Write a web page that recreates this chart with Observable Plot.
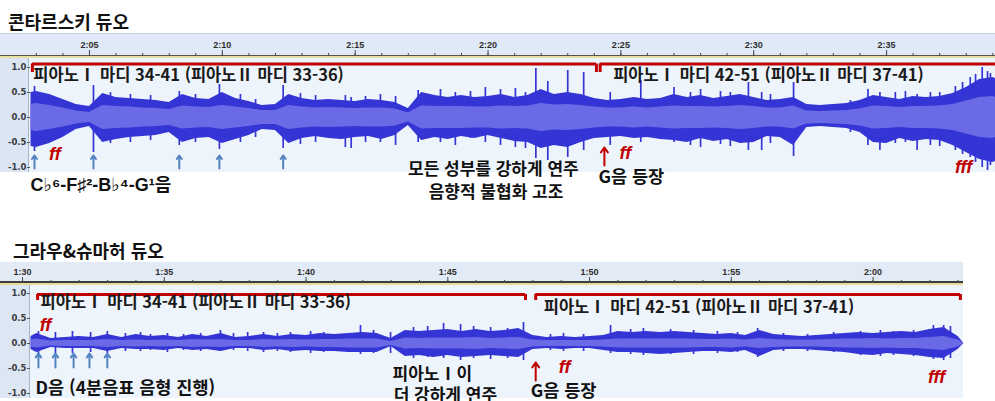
<!DOCTYPE html>
<html lang="ko">
<head>
<meta charset="utf-8">
<script src="https://cdn.jsdelivr.net/npm/d3@7"></script>
<script src="https://cdn.jsdelivr.net/npm/@observablehq/plot@0.6"></script>
<style>
  html, body { margin: 0; padding: 0; background: #fff; }
  body { position: relative; width: 995px; height: 401px; overflow: hidden; font-family: "Noto Sans CJK KR", sans-serif; }
  .box { position: absolute; }
  .title { position: absolute; font-weight: 700; font-size: 18px; line-height: 1; color: #111; white-space: nowrap; }
  .layer { position: absolute; left: 0; }
</style>
</head>
<body>
<div class="title" style="left:8px;top:12px">콘타르스키 듀오</div>
<div class="title" style="left:13px;top:241px">그라우&amp;슈마허 듀오</div>

<!-- track backgrounds: time ruler, amplitude ruler, waveform area -->
<div class="box" style="left:0;top:33px;width:995px;height:21px;background:#dfe9f7;border-top:1px solid #c5cfdc"></div>
<div class="box" style="left:0;top:55px;width:995px;height:1px;background:#55554a"></div>
<div class="box" style="left:0;top:56px;width:995px;height:2px;background:#e8e0a2"></div>
<div class="box" style="left:0;top:58px;width:28px;height:114px;background:#dbe5f3;border-right:1px solid #a8b6ca"></div>
<div class="box" style="left:29px;top:58px;width:966px;height:114px;background:#eef4fb"></div>

<div class="box" style="left:0;top:262px;width:963px;height:19px;background:#e2eaf6"></div>
<div class="box" style="left:0;top:281px;width:963px;height:2px;background:#3c3c3c"></div>
<div class="box" style="left:0;top:283px;width:963px;height:2px;background:#e6dc9a"></div>
<div class="box" style="left:0;top:285px;width:29px;height:113px;background:#dde6f3;border-right:1px solid #a8b6ca"></div>
<div class="box" style="left:30px;top:285px;width:933px;height:113px;background:#eef4fb"></div>

<div id="top" class="layer" style="top:0"></div>
<div id="bottom" class="layer" style="top:200px"></div>

<script>
// ---------- 콘타르스키 듀오 (2:03 – 2:39) ----------
// Waveform envelope sampled every half second: time (s), peak max, peak min, RMS
const kTime = [122.8,123,123.5,124,124.5,125,125.5,126,126.5,127,127.5,128,128.5,129,129.5,130,130.5,131,131.5,132,132.5,133,133.5,134,134.5,135,135.5,136,136.5,137,137.5,138,138.5,139,139.5,140,140.5,141,141.5,142,142.5,143,143.5,144,144.5,145,145.5,146,146.5,147,147.5,148,148.5,149,149.5,150,150.5,151,151.5,152,152.5,153,153.5,154,154.5,155,155.5,156,156.5,157,157.5,158,158.5,159,159.1];
const kPeakHi = [.50,.52,.46,.36,.26,.22,.48,.40,.38,.36,.34,.30,.46,.38,.36,.50,.38,.32,.24,.26,.46,.38,.34,.36,.34,.32,.36,.34,.30,.18,.50,.44,.40,.44,.40,.42,.46,.40,.44,.56,.46,.50,.46,.38,.34,.36,.40,.36,.38,.46,.40,.44,.38,.42,.46,.40,.34,.36,.40,.26,.24,.26,.28,.34,.44,.40,.36,.42,.40,.42,.48,.60,.76,.80,.78];
const kPeakLo = [-.58,-.60,-.52,-.40,-.24,-.18,-.50,-.44,-.40,-.38,-.36,-.30,-.50,-.42,-.40,-.52,-.44,-.36,-.24,-.26,-.52,-.42,-.38,-.42,-.44,-.40,-.38,-.44,-.36,-.16,-.46,-.40,-.44,-.38,-.42,-.36,-.42,-.48,-.50,-.62,-.56,-.60,-.50,-.42,-.40,-.38,-.42,-.40,-.44,-.46,-.50,-.42,-.48,-.44,-.52,-.50,-.38,-.40,-.56,-.20,-.18,-.20,-.22,-.30,-.50,-.52,-.42,-.48,-.44,-.46,-.56,-.70,-.84,-.90,-.88];
const kRms = [.26,.28,.24,.19,.13,.10,.24,.22,.21,.19,.18,.16,.23,.21,.20,.24,.21,.18,.14,.14,.24,.21,.19,.20,.19,.18,.19,.19,.17,.09,.23,.22,.22,.22,.21,.21,.23,.22,.23,.28,.25,.26,.24,.21,.19,.19,.21,.19,.21,.23,.22,.22,.21,.22,.24,.22,.19,.19,.23,.13,.12,.13,.14,.17,.23,.22,.20,.22,.22,.23,.26,.33,.40,.42,.40];
// Note attacks (transients): time (s), peak max, peak min
const kHitTime = [122.93,125.15,125.79,126.54,127.3,128.38,128.99,129.89,130.68,131.25,132.29,132.94,133.51,134.63,134.85,135.39,135.95,136.52,137.37,138.21,138.77,139.34,139.9,140.47,141.03,141.41,141.8,142.25,143.0,143.6,144.6,145.75,147.0,147.62,148.0,148.75,149.12,149.8,150.3,150.63,151.5,153.64,154.3,154.75,155.33,155.71,156.15,156.65,157.0,157.59,157.86,158.15,158.35,158.6,158.8,158.91];
const kHitHi = [.62,.64,.50,.46,.44,.52,.46,.66,.46,.36,.64,.48,.44,.44,.40,.42,.46,.42,.54,.56,.50,.52,.60,.56,.58,.50,.98,.72,.94,.90,.50,.74,.60,.50,.56,.52,.50,.70,.50,.46,.70,.34,.56,.50,.50,.52,.46,.50,.50,.62,.70,.80,.86,1.0,.92,.88];
const kHitLo = [-.68,-.70,-.52,-.50,-.46,-.56,-.50,-.64,-.50,-.40,-.62,-.54,-.50,-.60,-.62,-.50,-.50,-.56,-.50,-.50,-.56,-.42,-.50,-.56,-.60,-.62,-.82,-.86,-.80,-.66,-.56,-.50,-.50,-.56,-.60,-.54,-.58,-.66,-.66,-.52,-.78,-.30,-.56,-.66,-.52,-.50,-.66,-.56,-.58,-.66,-.74,-.80,-.90,-1.0,-1.06,-.96];
// Sections (bars) and marked events
const kSectionStart = [122.85, 144.22];
const kSectionEnd = [144.08, 159.4];
const kSectionLabel = ["피아노Ⅰ 마디 34-41 (피아노Ⅱ 마디 33-36)", "피아노Ⅰ 마디 42-51 (피아노Ⅱ 마디 37-41)"];
const kChordTimes = [122.93, 125.15, 128.38, 129.89, 132.29];
const kGEntry = 144.38;

// ---------- 그라우&슈마허 듀오 (1:30 – 2:03) ----------
const gTime = [90.3,90.5,91,91.5,92,92.5,93,93.5,94,94.5,95,95.5,96,96.5,97,97.5,98,98.5,99,99.5,100,100.5,101,101.5,102,102.5,103,103.5,104,104.5,105,105.5,106,106.5,107,107.5,108,108.5,109,109.5,110,110.5,111,111.5,112,112.5,113,113.5,114,114.5,115,115.5,116,116.5,117,117.5,118,118.5,119,119.5,120,120.5,121,121.5,122,122.5,123,123.2];
const gPeakHi = [.14,.20,.10,.12,.14,.12,.18,.12,.18,.14,.16,.12,.18,.14,.20,.12,.14,.18,.14,.18,.16,.20,.18,.20,.22,.20,.10,.26,.24,.26,.28,.24,.28,.24,.26,.30,.16,.12,.14,.12,.14,.16,.24,.22,.24,.22,.24,.22,.20,.18,.20,.16,.26,.18,.16,.14,.16,.18,.20,.22,.20,.22,.24,.22,.28,.32,.14,0];
const gPeakLo = [-.12,-.18,-.08,-.10,-.10,-.10,-.16,-.10,-.12,-.12,-.14,-.10,-.14,-.12,-.16,-.10,-.10,-.14,-.12,-.16,-.14,-.16,-.16,-.18,-.18,-.18,-.06,-.26,-.24,-.28,-.24,-.28,-.26,-.24,-.26,-.28,-.12,-.10,-.12,-.10,-.10,-.14,-.18,-.18,-.20,-.22,-.20,-.18,-.16,-.16,-.18,-.14,-.26,-.14,-.12,-.12,-.14,-.16,-.18,-.22,-.24,-.20,-.22,-.24,-.28,-.30,-.12,0];
const gRms = [.07,.09,.05,.06,.06,.06,.08,.06,.07,.06,.07,.06,.08,.07,.08,.06,.06,.08,.07,.08,.07,.08,.08,.09,.09,.09,.04,.11,.10,.11,.11,.11,.12,.10,.11,.12,.07,.06,.06,.06,.06,.07,.09,.09,.09,.09,.09,.09,.08,.08,.09,.07,.10,.08,.07,.07,.07,.08,.09,.09,.10,.09,.10,.10,.12,.14,.07,0];
const gHitTime = [90.56,91.16,91.76,92.4,92.99,93.63,94.16,94.51,95.11,95.68,96.28,96.98,97.44,97.94,98.5,98.99,99.45,100.16,100.62,101.92,102.38,102.98,103.79,104.29,104.85,105.45,105.91,106.51,107.11,107.67,108.62,109.08,109.79,110.74,111.45,111.9,112.86,113.67,114.51,115.22,115.93,116.84,117.69,118.61,119.56,120.26,120.72,121.43,122.13,122.49,122.73];
const gHitHi = [.24,.22,.24,.22,.24,.20,.22,.18,.20,.18,.20,.26,.20,.22,.22,.20,.22,.24,.22,.36,.26,.22,.32,.34,.40,.38,.34,.32,.30,.42,.18,.20,.18,.36,.28,.30,.28,.26,.24,.22,.30,.20,.18,.22,.24,.26,.24,.26,.36,.36,.34];
const gHitLo = [-.22,-.20,-.20,-.18,-.20,-.16,-.16,-.14,-.18,-.14,-.16,-.16,-.14,-.16,-.18,-.16,-.18,-.20,-.18,-.22,-.20,-.20,-.30,-.28,-.30,-.34,-.30,-.32,-.30,-.34,-.14,-.16,-.16,-.20,-.22,-.24,-.22,-.22,-.20,-.18,-.28,-.16,-.16,-.18,-.24,-.26,-.24,-.26,-.32,-.34,-.30];
const gSectionStart = [90.53, 108.1];
const gSectionEnd = [107.74, 123.08];
const gSectionLabel = ["피아노Ⅰ 마디 34-41 (피아노Ⅱ 마디 33-36)", "피아노Ⅰ 마디 42-51 (피아노Ⅱ 마디 37-41)"];
const gPulseTimes = [90.56, 91.16, 91.8, 92.36, 92.99];
const gGEntry = 108.1;

// ---------- shared styling ----------
const PEAK = "#3535d6", RMS = "#6a6ae6", RED = "#c00000", NOTE = "#5283c2";
const KR = "'Noto Sans CJK KR', sans-serif";
const DYN = "'Liberation Sans', Arial, sans-serif";
const NOTE_FONT = "'Liberation Sans', 'DejaVu Sans', 'Noto Sans CJK KR', sans-serif";

const envelope = (t, hi, lo, rms) => t.map((d, i) => ({t: d, hi: hi[i], lo: lo[i], rms: rms[i]}));
const hits = (t, hi, lo) => t.map((d, i) => ({t: d, hi: hi[i], lo: lo[i]}));
const sections = (s, e, l) => s.map((d, i) => ({start: d, end: e[i], label: l[i]}));
const mmss = s => `${Math.floor(s / 60)}:${String(Math.round(s % 60)).padStart(2, "0")}`;

function waveformMarks(env, hitList) {
  return [
    Plot.areaY(env, {x: "t", y1: "lo", y2: "hi", fill: PEAK}),
    Plot.ruleX(hitList, {x: "t", y1: "lo", y2: "hi", stroke: PEAK, strokeWidth: 1.7}),
    Plot.areaY(env, {x: "t", y1: d => -d.rms, y2: "rms", fill: RMS})
  ];
}

function rulerMarks(first, last) {
  const seconds = d3.range(Math.ceil(first), Math.floor(last) + 1);
  const majors = seconds.filter(s => s % 5 === 0);
  return [
    Plot.axisX(seconds, {anchor: "top", tickSize: 3, tickFormat: () => "", stroke: "#4a4a4a", label: null}),
    Plot.axisX(majors, {anchor: "top", tickSize: 6, tickPadding: 2, tickFormat: mmss, label: null,
      stroke: "#4a4a4a", fill: "#2e2e2e", fontSize: 9, fontWeight: "bold", fontFamily: DYN}),
    Plot.axisY([-1, -0.5, 0, 0.5, 1], {anchor: "left", tickSize: 3, tickPadding: 1, label: null,
      tickFormat: d => d.toFixed(1), stroke: "#555", fill: "#3c3c3c", fontSize: 8.5, fontWeight: "bold",
      fontFamily: "'DejaVu Sans', sans-serif"})
  ];
}

function bracketMarks(sec, yLine, yTick) {
  return [
    Plot.ruleY(sec, {y: yLine, x1: "start", x2: "end", stroke: RED, strokeWidth: 3}),
    Plot.ruleX(sec, {x: "start", y1: yTick, y2: yLine, stroke: RED, strokeWidth: 3}),
    Plot.ruleX(sec, {x: "end", y1: yTick, y2: yLine, stroke: RED, strokeWidth: 3})
  ];
}

const label = (text, x, y, opts = {}) =>
  Plot.text([text], {x, y, text: d => d, fontFamily: KR, fontWeight: "bold", fontSize: 17.5, fill: "#111", ...opts});
const dyn = (text, x, y) =>
  Plot.text([text], {x, y, text: d => d, fontFamily: DYN, fontWeight: "bold", fontStyle: "italic", fontSize: 18, fill: RED});
const sectionLabel = (text, x, y, dx) =>
  label(text, x, y, {textAnchor: "start", dx, fontSize: 16.5, fill: "#1a1a1a"});

// ---------- 콘타르스키 듀오 ----------
const kSec = sections(kSectionStart, kSectionEnd, kSectionLabel);
const kX = [122.78, 159.1];
const topChart = Plot.plot({
  width: 995, height: 200,
  marginLeft: 30, marginRight: 0, marginTop: 55, marginBottom: 28,
  x: {domain: kX, label: null},
  y: {domain: [-1.1, 1.24], label: null},
  style: {background: "transparent", overflow: "visible", fontFamily: KR},
  marks: [
    ...waveformMarks(envelope(kTime, kPeakHi, kPeakLo, kRms), hits(kHitTime, kHitHi, kHitLo)),
    ...rulerMarks(kX[0], kX[1]),
    ...bracketMarks(kSec, 1.07, 0.9),
    sectionLabel(kSec[0].label, kSec[0].start, 0.84, 1),
    sectionLabel(kSec[1].label, kSec[1].start, 0.84, 13),
    Plot.arrow(kChordTimes, {x: d => d, y1: -1.02, y2: -0.76, stroke: NOTE, strokeWidth: 2, headLength: 6, headAngle: 70}),
    Plot.arrow([kGEntry], {x: d => d, y1: -0.96, y2: -0.6, stroke: RED, strokeWidth: 2, headLength: 7, headAngle: 70}),
    dyn("ff", 123.7, -0.74),
    dyn("ff", 145.17, -0.72),
    dyn("fff", 157.9, -1.0),
    label("C♭⁶-F♯²-B♭⁴-G¹음", kX[0], -1.36, {textAnchor: "start", fontFamily: NOTE_FONT, fontSize: 18}),
    label("모든 성부를 강하게 연주", 140.2, -1.05, {fontSize: 17}),
    label("음향적 불협화 고조", 140.3, -1.51, {fontSize: 17}),
    label("G음 등장", kGEntry, -1.2, {textAnchor: "start", dx: -6})
  ]
});
document.getElementById("top").append(topChart);

// ---------- 그라우&슈마허 듀오 ----------
const gSec = sections(gSectionStart, gSectionEnd, gSectionLabel);
const gX = [90.28, 123.19];
const bottomChart = Plot.plot({
  width: 995, height: 201,
  marginLeft: 30, marginRight: 32, marginTop: 82, marginBottom: 3,
  x: {domain: gX, label: null},
  y: {domain: [-1.1, 1.22], label: null},
  style: {background: "transparent", overflow: "visible", fontFamily: KR},
  marks: [
    ...waveformMarks(envelope(gTime, gPeakHi, gPeakLo, gRms), hits(gHitTime, gHitHi, gHitLo)),
    ...rulerMarks(90, gX[1]),
    ...bracketMarks(gSec, 0.98, 0.86),
    sectionLabel(gSec[0].label, gSec[0].start, 0.82, 3),
    sectionLabel(gSec[1].label, gSec[1].start, 0.72, 8),
    Plot.arrow(gPulseTimes, {x: d => d, y1: -0.48, y2: -0.2, stroke: NOTE, strokeWidth: 2, headLength: 6, headAngle: 70}),
    Plot.arrow([gGEntry], {x: d => d, y1: -0.74, y2: -0.38, stroke: RED, strokeWidth: 2, headLength: 7, headAngle: 70}),
    dyn("ff", 90.81, 0.36),
    dyn("ff", 109.12, -0.48),
    dyn("fff", 122.24, -0.68),
    label("D음 (4분음표 음형 진행)", 90.46, -0.9, {textAnchor: "start"}),
    label("피아노Ⅰ이", 103.05, -0.62, {textAnchor: "start", fontSize: 17}),
    label("더 강하게 연주", 103.09, -1.04, {textAnchor: "start", fontSize: 17}),
    label("G음 등장", gGEntry, -0.96, {textAnchor: "start", dx: -5})
  ]
});
document.getElementById("bottom").append(bottomChart);
</script>
</body>
</html>
